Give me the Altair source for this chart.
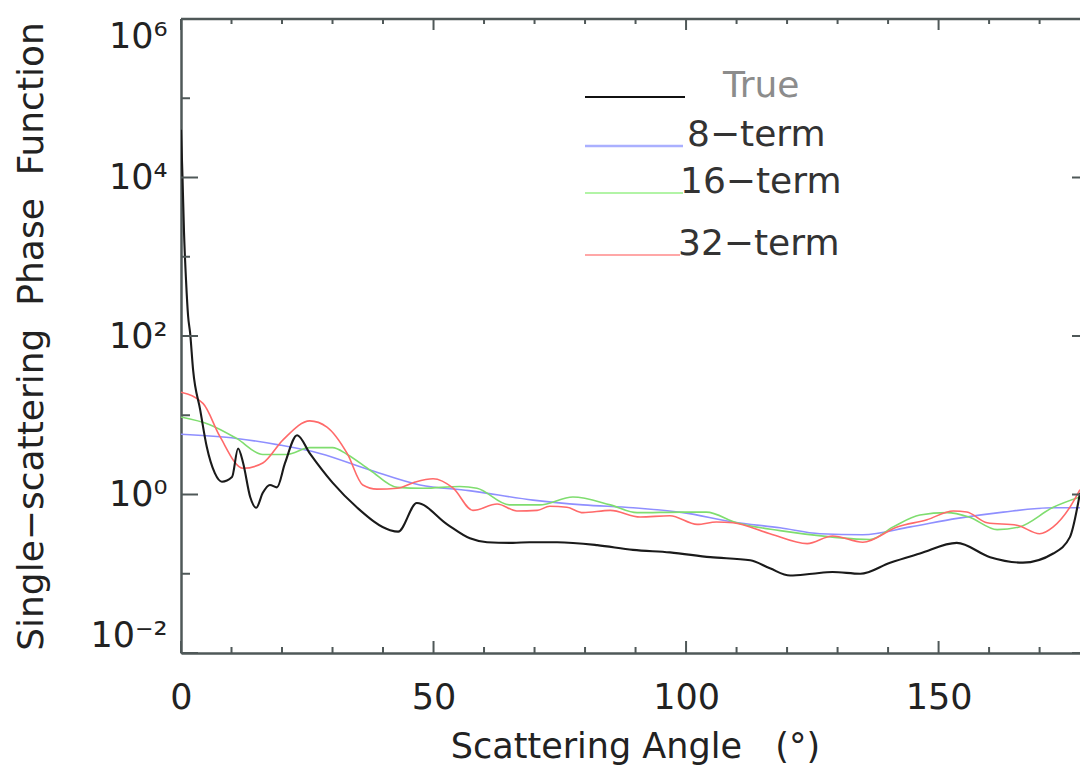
import altair as alt
import pandas as pd

# ---------------- data ----------------
series_names = ["True", "8\u2212term", "16\u2212term", "32\u2212term"]
series_colors = ["#1a1a1a", "#8f8fff", "#7fdd6f", "#ff6a6a"]

true_angle = [0, 0.3, 0.6, 1.0, 1.4, 1.8, 2.4, 3.8, 5.1, 6.7, 8.1, 10.1, 11.3, 12.3, 13.7,
              14.9, 16.2, 17.6, 19.0, 20.6, 23.0, 25.5, 30.0, 34.8, 41.4, 43.0, 46.7, 52.7,
              57.2, 60.6, 65.7, 69.0, 74.5, 82.4, 89.5, 96.8, 104.8, 112.7, 116.6, 120.6,
              125.0, 129.0, 134.5, 140.4, 146.3, 153.6, 160.2, 166.7, 172.7, 176.0, 178.0]
true_value = [40000, 10000, 2000, 500, 180, 110, 37, 11.7, 4.0, 1.86, 1.45, 1.66, 3.8, 2.5, 0.93,
              0.68, 1.05, 1.32, 1.23, 2.5, 5.6, 3.3, 1.41, 0.69, 0.355, 0.34, 0.78, 0.42,
              0.28, 0.25, 0.245, 0.25, 0.25, 0.23, 0.20, 0.186, 0.162, 0.148, 0.117, 0.095,
              0.10, 0.105, 0.10, 0.138, 0.18, 0.245, 0.162, 0.138, 0.18, 0.29, 1.05]

t8_angle = [0, 11, 19.6, 27.5, 37.4, 47.3, 57, 69.7, 79.6, 89.5, 99.4, 109.3, 118.6, 126.5,
            135, 144.4, 153.7, 162.8, 172.7, 178]
t8_value = [5.75, 5.1, 4.2, 3.3, 2.04, 1.32, 1.12, 0.85, 0.74, 0.68, 0.59, 0.45, 0.38, 0.32,
            0.31, 0.39, 0.50, 0.60, 0.68, 0.68]

t16_angle = [0, 5.7, 11, 16.2, 21, 25.5, 30, 32.9, 37.4, 42.8, 48, 55.2, 58.6, 65, 71, 77.6,
             85, 90.3, 99.4, 104, 110, 118.6, 129, 136.4, 141, 146.3, 151.7, 156, 161.6, 166,
             172.7, 178]
t16_value = [9.5, 7.6, 5.1, 3.2, 3.2, 3.9, 3.9, 3.2, 2.04, 1.23, 1.2, 1.26, 1.2, 0.74, 0.74, 0.93,
             0.74, 0.59, 0.60, 0.60, 0.44, 0.35, 0.29, 0.27, 0.39, 0.55, 0.59, 0.52, 0.36, 0.39,
             0.69, 0.93]

t32_angle = [0, 4.4, 7.7, 12.3, 16.2, 20.2, 25.5, 28.9, 32.9, 36, 38.8, 42.8, 46, 49.9, 53.9,
             57.8, 62.6, 66.5, 70.5, 73, 76.4, 79.6, 85, 90.9, 96.8, 102.2, 106, 109.3, 116.6,
             124, 129, 135, 141.8, 147.7, 152.9, 155.6, 159.6, 165.5, 170, 172.7, 176, 178]
t32_value = [19.5, 14, 5.4, 2.14, 2.5, 4.9, 8.5, 7.1, 3.3, 1.32, 1.17, 1.2, 1.41, 1.58, 1.2,
             0.63, 0.76, 0.62, 0.63, 0.71, 0.69, 0.59, 0.63, 0.52, 0.54, 0.42, 0.45, 0.44, 0.32,
             0.24, 0.30, 0.25, 0.39, 0.48, 0.62, 0.60, 0.44, 0.41, 0.32, 0.39, 0.69, 1.15]

x_major_ticks = [0, 50, 100, 150]
x_minor_ticks = [10, 20, 30, 40, 60, 70, 80, 90, 110, 120, 130, 140, 160, 170]
y_major_ticks = [1e-2, 1e0, 1e2, 1e4, 1e6]
y_minor_ticks = [1e-1, 1e1, 1e3, 1e5]

# ---------------- layout ----------------
W, H = 899, 634
AX = "#4f5858"
FONT = "DejaVu Sans"

rows = []
for name, xs, ys in zip(series_names,
                        [true_angle, t8_angle, t16_angle, t32_angle],
                        [true_value, t8_value, t16_value, t32_value]):
    for a, v in zip(xs, ys):
        rows.append({"angle": a, "value": v, "series": name})
df = pd.DataFrame(rows)

xscale = alt.Scale(domain=[0, 178], nice=False, zero=False)
yscale = alt.Scale(type="log", domain=[1e-2, 1e6], nice=False)
cscale = alt.Scale(domain=series_names, range=series_colors)

label_expr = ("'10' + (round(log(datum.value)/LN10) == 6 ? '\u2076' : "
              "round(log(datum.value)/LN10) == 4 ? '\u2074' : "
              "round(log(datum.value)/LN10) == 2 ? '\u00b2' : "
              "round(log(datum.value)/LN10) == 0 ? '\u2070' : '\u207b\u00b2')")

x_title = "Scattering Angle\u00a0\u00a0\u00a0(\u00b0)"
y_title = "Single\u2212scattering\u00a0\u00a0Phase\u00a0\u00a0Function"

x_axis = alt.Axis(values=x_major_ticks, ticks=False, tickSize=0, grid=False,
                  labelFontSize=35, labelFont=FONT, labelColor="#222222", labelPadding=27,
                  labelFlush=False, labelOverlap=False,
                  domainColor=AX, domainWidth=2.5,
                  title=x_title, titleFont=FONT,
                  titleFontSize=35, titleFontWeight="normal", titleColor="#222222",
                  titleX=454, titleY=104, titleBaseline="alphabetic", titleAlign="center")
y_axis = alt.Axis(values=y_major_ticks, ticks=False, tickSize=0, grid=False,
                  labelExpr=label_expr, labelFontSize=35, labelFont=FONT,
                  labelColor="#222222", labelPadding=14, labelFlush=True, labelOverlap=False,
                  domainColor=AX, domainWidth=2.5,
                  title=y_title,
                  titleFont=FONT, titleFontSize=36, titleFontWeight="normal",
                  titleColor="#222222", titleX=-139, titleY=317, titleAngle=270,
                  titleBaseline="alphabetic", titleAlign="center")


def X(field):
    return alt.X(field, scale=xscale, axis=x_axis, title=x_title)


def Y(field):
    return alt.Y(field, scale=yscale, axis=y_axis, title=y_title)


base = alt.Chart(df)

approx = base.transform_filter(alt.datum.series != "True").mark_line(
    strokeWidth=1.6, interpolate="monotone", clip=True).encode(
    x=X("angle:Q"), y=Y("value:Q"),
    color=alt.Color("series:N", scale=cscale, legend=None),
    detail="series:N",
)
truth = base.transform_filter(alt.datum.series == "True").mark_line(
    strokeWidth=2.1, interpolate="monotone", clip=True).encode(
    x=X("angle:Q"), y=Y("value:Q"),
    color=alt.Color("series:N", scale=cscale, legend=None),
)


# inward tick marks
def xticks(vals, y0, y1):
    return alt.Chart(pd.DataFrame({"angle": vals})).mark_rule(color=AX, strokeWidth=2).encode(
        x=X("angle:Q"), y=alt.value(y0), y2=alt.value(y1))


def yticks(vals, x0, x1):
    return alt.Chart(pd.DataFrame({"value": vals})).mark_rule(color=AX, strokeWidth=2).encode(
        y=Y("value:Q"), x=alt.value(x0), x2=alt.value(x1))


tick_layers = [
    xticks(x_major_ticks, H, H - 12), xticks(x_minor_ticks, H, H - 6),
    xticks(x_major_ticks, 0, 11), xticks(x_minor_ticks, 0, 5),
    yticks(y_major_ticks, 0, 17), yticks(y_minor_ticks, 0, 9),
    yticks(y_major_ticks, W - 8, W),
]

top_frame = alt.Chart(pd.DataFrame({"t": [0]})).mark_rule(color=AX, strokeWidth=2.5).encode(
    x=alt.value(0), x2=alt.value(W), y=alt.value(0))

# legend drawn inside the plot
legend_line_x = [(404, 504), (404, 502), (404, 502), (404, 499)]
legend_line_y = [78, 127, 174, 236]
legend_text_x = [542, 506, 499, 497]
legend_text_colors = ["#8c8c8c", "#333333", "#333333", "#333333"]
legend_line_colors = ["#111111", "#aab0ff", "#99f088", "#ff8a8a"]
legend_line_widths = [2.2, 2.5, 1.6, 1.6]

legend_layers = []
for i, name in enumerate(series_names):
    one = alt.Chart(pd.DataFrame({"label": [name]}))
    legend_layers.append(one.mark_rule(color=legend_line_colors[i],
                                       strokeWidth=legend_line_widths[i]).encode(
        x=alt.value(legend_line_x[i][0]), x2=alt.value(legend_line_x[i][1]),
        y=alt.value(legend_line_y[i])))
    legend_layers.append(one.mark_text(align="left", baseline="alphabetic", font=FONT,
                                       fontSize=36, color=legend_text_colors[i]).encode(
        x=alt.value(legend_text_x[i]), y=alt.value(legend_line_y[i]), text="label:N"))

chart = alt.layer(approx, truth, *tick_layers, top_frame, *legend_layers).properties(
    width=W, height=H,
    padding={"left": 181, "top": 19, "right": 0, "bottom": 113},
    autosize=alt.AutoSizeParams(type="none"),
    background="white",
).configure_view(stroke=None)

chart.save("out.html", embed_options={"renderer": "svg", "actions": False})
